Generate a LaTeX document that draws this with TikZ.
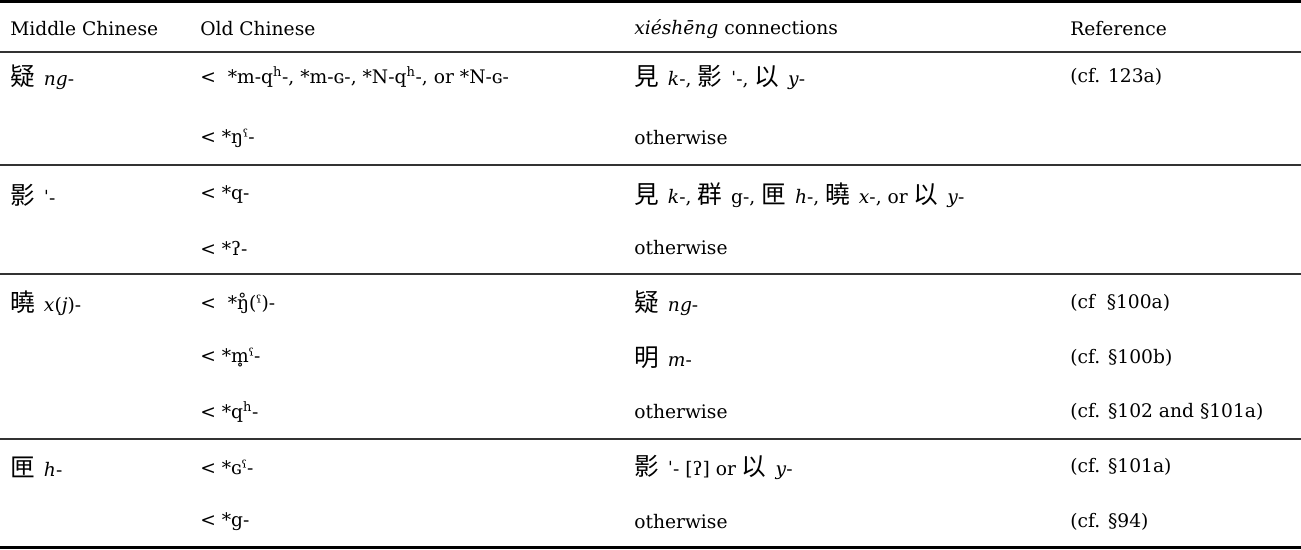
\documentclass[tikz,border=0pt]{standalone}
\usepackage{fontspec}
\setmainfont{DejaVu Serif}
\newfontfamily\cjk{Noto Sans CJK SC}
\newfontfamily\ipa{DejaVu Serif}
\newcommand{\zh}[1]{{\cjk\fontsize{18.5}{20}\selectfont #1}\,}
\newcommand{\ip}[1]{{\ipa #1}}
\begin{document}
\begin{tikzpicture}[
    x=0.75pt,y=-0.75pt,cell/.style={anchor=west,inner sep=0pt,font=\fontsize{14}{16}\selectfont},
    rule/.style={line width=1pt,black!80}
    ]
    \useasboundingbox (0,0) rectangle (1301,549);
    \draw[line width=1.6pt] (0,1.5) -- (1301,1.5);
    \draw[rule] (0,52) -- (1301,52);
    \draw[rule] (0,165) -- (1301,165);
    \draw[rule] (0,274) -- (1301,274);
    \draw[rule] (0,439) -- (1301,439);
    \draw[line width=1.6pt] (0,547.5) -- (1301,547.5);
    % header
    \node[cell] (h1) at (10,29) {Middle Chinese};
    \node[cell] (h2) at (200,29) {Old Chinese};
    \node[cell] (h3) at (634,29) {\textit{xiéshēng} connections};
    \node[cell] (h4) at (1070,29) {Reference};
    % 疑
    \node[cell] (a1) at (10,77) {\zh{疑} \textit{ng}-};
    \node[cell] (a2) at (200,77) {<\ \ *m-q\textsuperscript{h}-, *m-\ip{ɢ}-, *N-q\textsuperscript{h}-, or *N-\ip{ɢ}-};
    \node[cell] (a3) at (634,77) {\zh{見} \textit{k}-, \zh{影} \ip{ˈ}-, \zh{以} \textit{y}-};
    \node[cell] (a4) at (1070,77) {(cf. 123a)};
    \node[cell] (b2) at (200,138) {< *\ip{ŋˤ}-};
    \node[cell] (b3) at (634,138) {otherwise};
    % 影
    \node[cell] (c1) at (10,195) {\zh{影} \ip{ˈ}-};
    \node[cell] (c2) at (200,195) {< *q-};
    \node[cell] (c3) at (634,195) {\zh{見} \textit{k}-, \zh{群} g-, \zh{匣} \textit{h}-, \zh{曉} \textit{x}-, or \zh{以} \textit{y}-};
    \node[cell] (d2) at (200,248) {< *\ip{ʔ}-};
    \node[cell] (d3) at (634,248) {otherwise};
    % 曉
    \node[cell] (e1) at (10,303) {\zh{曉} \textit{x}(\textit{j})-};
    \node[cell] (e2) at (200,303) {<\ \ *\ip{ŋ̊(ˤ)}-};
    \node[cell] (e3) at (634,303) {\zh{疑} \textit{ng}-};
    \node[cell] (e4) at (1070,303) {(cf \ §100a)};
    \node[cell] (f2) at (200,358) {< *\ip{m̥ˤ}-};
    \node[cell] (f3) at (634,358) {\zh{明} \textit{m}-};
    \node[cell] (f4) at (1070,358) {(cf. §100b)};
    \node[cell] (g2) at (200,412) {< *q\textsuperscript{h}-};
    \node[cell] (g3) at (634,412) {otherwise};
    \node[cell] (g4) at (1070,412) {(cf. §102 and §101a)};
    % 匣
    \node[cell] (i1) at (10,467) {\zh{匣} \textit{h}-};
    \node[cell] (i2) at (200,467) {< *\ip{ɢˤ}-};
    \node[cell] (i3) at (634,467) {\zh{影} \ip{ˈ}- [\ip{ʔ}] or \zh{以} \textit{y}-};
    \node[cell] (i4) at (1070,467) {(cf. §101a)};
    \node[cell] (j2) at (200,522) {< *g-};
    \node[cell] (j3) at (634,522) {otherwise};
    \node[cell] (j4) at (1070,522) {(cf. §94)};
  \end{tikzpicture}
\end{document}
